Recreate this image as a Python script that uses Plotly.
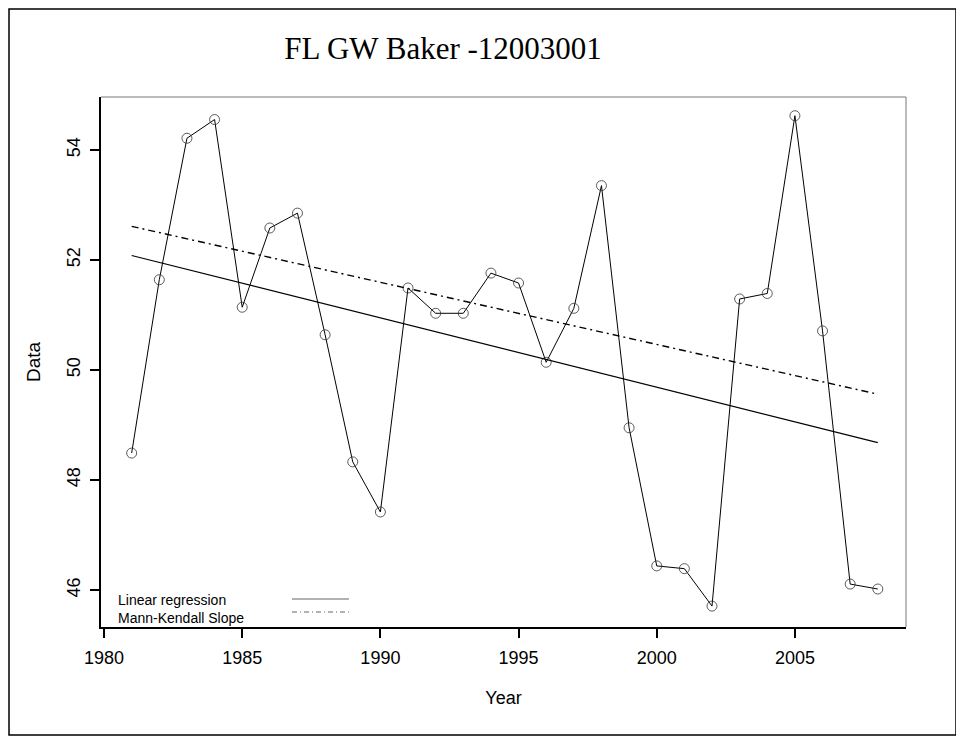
import plotly.graph_objects as go

# ---- data ----
years = list(range(1981, 2009))
values = [48.49, 51.64, 54.21, 54.55, 51.14, 52.58, 52.85, 50.64, 48.33, 47.42,
          51.49, 51.03, 51.03, 51.76, 51.58, 50.14, 51.12, 53.35, 48.95, 46.44,
          46.39, 45.71, 51.29, 51.39, 54.62, 50.71, 46.11, 46.02]
trend_years = [1981, 2008]
linreg_values = [52.08, 48.68]
mk_values = [52.61, 49.56]
x_ticks = [1980, 1985, 1990, 1995, 2000, 2005]
y_ticks = [46, 48, 50, 52, 54]
title_text = "FL GW Baker -12003001"
legend_labels = ["Linear regression", "Mann-Kendall Slope"]

# ---- layout geometry: page pixels, page body has an 8px margin ----
OFF = 8
W, H = 964 - OFF, 742 - OFF
L, R, T, B = 101 - OFF, 906 - OFF, 97 - OFF, 627 - OFF
pw, ph = R - L, B - T

def px_x(x):
    return (x - OFF - L) / pw

def px_y(y):
    return (B - (y - OFF)) / ph

font_sans = "Arial, Liberation Sans, sans-serif"

fig = go.Figure()
fig.add_trace(go.Scatter(
    x=years, y=values, mode="lines+markers",
    line=dict(color="black", width=1),
    marker=dict(symbol="circle-open", size=10, color="#333333", line=dict(width=0.8)),
    showlegend=False, hoverinfo="x+y"))
fig.add_trace(go.Scatter(
    x=trend_years, y=linreg_values, mode="lines",
    line=dict(color="black", width=1.2), showlegend=False))
fig.add_trace(go.Scatter(
    x=trend_years, y=mk_values, mode="lines",
    line=dict(color="black", width=1.4, dash="7px,4px,2px,4px"), showlegend=False))

shapes = [
    # outer frame (kept inside the visible figure area)
    dict(type="rect", xref="paper", yref="paper",
         x0=px_x(OFF + 1), x1=px_x(956), y0=px_y(735), y1=px_y(OFF + 1),
         line=dict(color="black", width=1.5), fillcolor="rgba(0,0,0,0)", layer="below"),
    # top and right edges of plot box (gray)
    dict(type="line", xref="paper", yref="paper", x0=0, x1=1, y0=1, y1=1,
         line=dict(color="#777777", width=1)),
    dict(type="line", xref="paper", yref="paper", x0=1, x1=1, y0=0, y1=1,
         line=dict(color="#777777", width=1)),
    # legend line samples
    dict(type="line", xref="paper", yref="paper", x0=px_x(292), x1=px_x(349),
         y0=px_y(599), y1=px_y(599), line=dict(color="#666666", width=1.2)),
    dict(type="line", xref="paper", yref="paper", x0=px_x(292), x1=px_x(349),
         y0=px_y(612), y1=px_y(612), line=dict(color="#666666", width=1, dash="5px,3px,1px,3px")),
]

annotations = [
    dict(text="<br>".join(legend_labels), xref="paper", yref="paper", x=px_x(116), y=px_y(609),
         xanchor="left", yanchor="middle", align="left", showarrow=False,
         font=dict(family=font_sans, size=14, color="black")),
]

fig.update_layout(
    width=W, height=H,
    margin=dict(l=L, r=W - R, t=T, b=H - B, pad=0),
    paper_bgcolor="white", plot_bgcolor="white",
    title=dict(text=title_text, x=(443 - OFF) / W, xref="container", xanchor="center",
               y=1 - (48 - OFF) / H, yref="container", yanchor="middle",
               font=dict(family="Liberation Serif, Times New Roman, serif", size=31, color="black")),
    shapes=shapes, annotations=annotations,
    showlegend=False,
)
fig.update_xaxes(
    range=[1979.89, 2009.02], tickvals=x_ticks, ticktext=[str(v) for v in x_ticks],
    showgrid=False, zeroline=False, showline=True, linecolor="black", linewidth=1.5,
    ticks="outside", ticklen=9, tickwidth=1.5, tickcolor="black",
    tickfont=dict(family=font_sans, size=18, color="black"), ticklabelstandoff=5,
    title=dict(text="Year", font=dict(family=font_sans, size=18, color="black"), standoff=24),
)
fig.update_yaxes(
    range=[45.33, 54.96], tickvals=y_ticks, ticktext=[str(v) for v in y_ticks],
    showgrid=False, zeroline=False, showline=True, linecolor="black", linewidth=1.5,
    ticks="outside", ticklen=9, tickwidth=1.5, tickcolor="black", tickangle=-90,
    tickfont=dict(family=font_sans, size=18, color="black"), ticklabelstandoff=3,
    title=dict(text="Data", font=dict(family=font_sans, size=19, color="black"), standoff=18),
)

fig.write_html("out.html")
